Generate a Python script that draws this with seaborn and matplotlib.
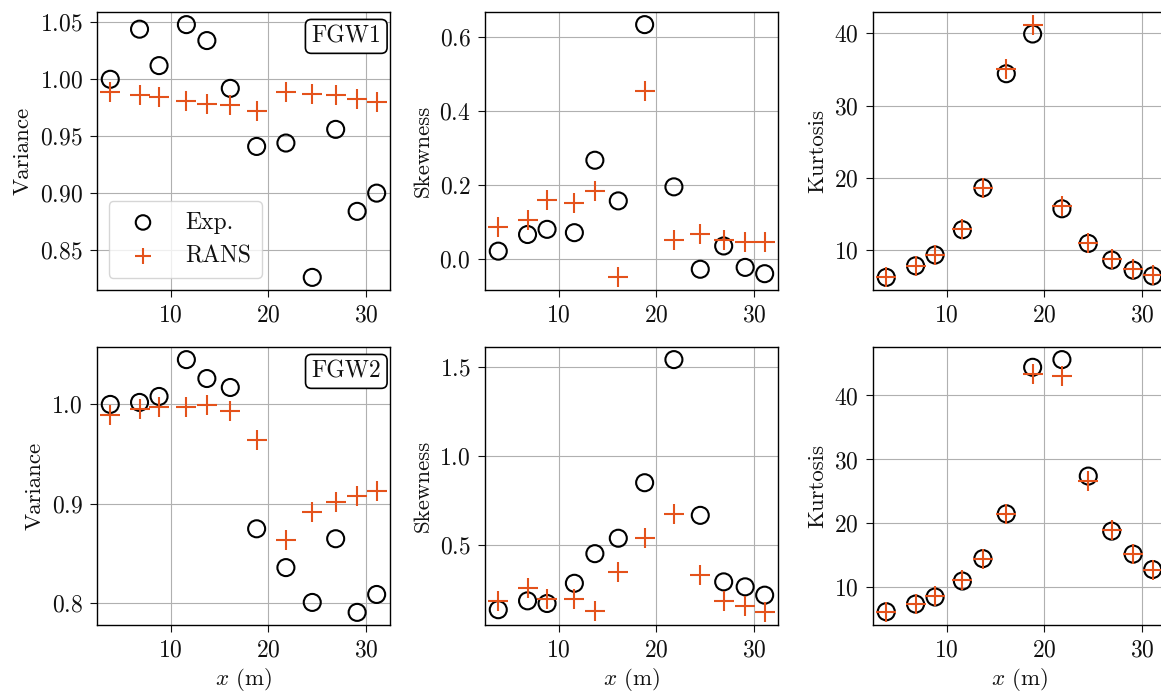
import numpy as np
import pandas as pd
import matplotlib
matplotlib.use("Agg")
import matplotlib.pyplot as plt
import seaborn as sns

# Streamwise positions of the wave gauges (m)
x_m = [3.8, 6.8, 8.8, 11.6, 13.7, 16.1, 18.8, 21.8, 24.5, 26.9, 29.1, 31.1]

# FGW1
var1_exp = [1.000, 1.044, 1.012, 1.048, 1.034, 0.992, 0.941, 0.944, 0.826, 0.956, 0.884, 0.900]
var1_rans = [0.989, 0.986, 0.984, 0.981, 0.978, 0.977, 0.972, 0.989, 0.987, 0.986, 0.983, 0.980]
skew1_exp = [0.020, 0.065, 0.079, 0.070, 0.266, 0.156, 0.633, 0.194, -0.029, 0.034, -0.024, -0.041]
skew1_rans = [0.085, 0.104, 0.158, 0.150, 0.184, -0.051, 0.454, 0.050, 0.066, 0.049, 0.046, 0.044]
kurt1_exp = [6.2, 7.8, 9.3, 12.8, 18.6, 34.4, 39.9, 15.7, 10.9, 8.6, 7.2, 6.4]
kurt1_rans = [6.2, 7.8, 9.3, 12.9, 18.6, 35.1, 41.2, 16.1, 11.0, 8.7, 7.3, 6.5]

# FGW2
var2_exp = [1.000, 1.002, 1.008, 1.045, 1.026, 1.017, 0.875, 0.836, 0.801, 0.865, 0.791, 0.809]
var2_rans = [0.989, 0.995, 0.997, 0.997, 0.999, 0.993, 0.964, 0.864, 0.892, 0.902, 0.908, 0.913]
skew2_exp = [0.133, 0.183, 0.168, 0.282, 0.449, 0.536, 0.849, 1.543, 0.665, 0.290, 0.262, 0.215]
skew2_rans = [0.181, 0.258, 0.196, 0.192, 0.127, 0.343, 0.539, 0.674, 0.331, 0.181, 0.155, 0.118]
kurt2_exp = [6.2, 7.4, 8.5, 11.0, 14.5, 21.5, 44.4, 45.6, 27.4, 18.8, 15.2, 12.8]
kurt2_rans = [6.1, 7.4, 8.6, 11.1, 14.4, 21.5, 43.4, 43.0, 26.6, 18.9, 15.2, 12.8]

cases = ["FGW1", "FGW2"]
stats = ["Variance", "Skewness", "Kurtosis"]
exp_data = [[var1_exp, skew1_exp, kurt1_exp], [var2_exp, skew2_exp, kurt2_exp]]
rans_data = [[var1_rans, skew1_rans, kurt1_rans], [var2_rans, skew2_rans, kurt2_rans]]

sns.set_style("ticks")
plt.rcParams.update({
    "font.family": "serif",
    "font.serif": ["cmr10"],
    "mathtext.fontset": "cm",
    "axes.formatter.use_mathtext": True,
    "font.size": 17,
    "axes.labelsize": 16.5,
    "xtick.labelsize": 17,
    "ytick.labelsize": 17,
    "legend.fontsize": 17,
    "axes.edgecolor": "black",
    "axes.linewidth": 1.0,
    "text.color": "#111111",
    "axes.labelcolor": "#111111",
    "xtick.color": "#111111",
    "ytick.color": "#111111",
})

orange = "#e4521b"

fig = plt.figure(figsize=(11.61, 6.93), dpi=100)
lefts = [0.0835, 0.4177, 0.7519]
bottoms = [0.5815, 0.0981]
w, h = 0.2524, 0.4012

for r, case in enumerate(cases):
    for c, stat in enumerate(stats):
        ax = fig.add_axes([lefts[c], bottoms[r], w, h])
        df = pd.DataFrame({"x": x_m, "exp": exp_data[r][c], "rans": rans_data[r][c]})
        sns.scatterplot(data=df, x="x", y="exp", ax=ax, marker="o", s=150,
                        facecolors="none", edgecolors="black", linewidth=1.5,
                        label="Exp.", zorder=3)
        sns.scatterplot(data=df, x="x", y="rans", ax=ax, marker="+", s=190,
                        color=orange, linewidth=1.5, label="RANS", zorder=4)
        ax.grid(True, color="#b0b0b0", linewidth=0.8)
        ax.set_axisbelow(True)
        ax.set_ylabel(stat, labelpad=5)
        ax.set_xlabel(r"$x$ (m)" if r == 1 else "", labelpad=3)
        ax.tick_params(direction="out", length=5.3, width=0.8, pad=5)
        if c == 0 and r == 0:
            ax.legend(loc="lower left", markerscale=0.85, fancybox=True,
                      framealpha=0.8, borderpad=0.45, handletextpad=0.8)
        else:
            ax.get_legend().remove()
        if c == 0:
            ax.text(0.97, 0.952, case, transform=ax.transAxes, ha="right", va="top",
                    bbox=dict(boxstyle="round,pad=0.25", fc="white", ec="black", lw=1.2),
                    zorder=5)

fig.savefig("out.png", dpi=100)
